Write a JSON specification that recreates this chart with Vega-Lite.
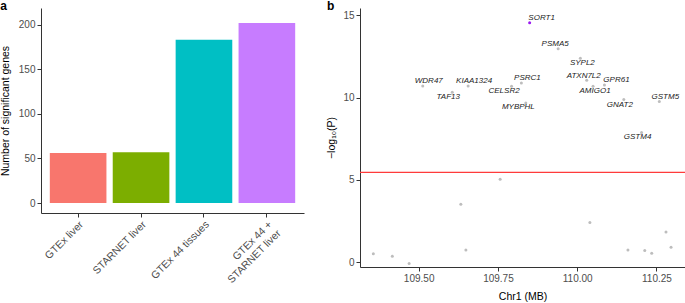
{
  "$schema": "https://vega.github.io/schema/vega-lite/v6.json",
  "padding": 0,
  "spacing": 22,
  "resolve": {"scale": {"color": "independent"}},
  "config": {
    "view": {"stroke": null},
    "font": "Liberation Sans",
    "axis": {
      "grid": false,
      "domainColor": "#333333",
      "tickColor": "#333333",
      "tickSize": 4,
      "labelColor": "#4D4D4D",
      "labelFontSize": 10,
      "titleFontSize": 10.5,
      "titleFontWeight": "normal",
      "titleColor": "#000000",
      "labelFont": "Liberation Sans",
      "titleFont": "Liberation Sans"
    },
    "title": {"fontSize": 12, "fontWeight": "bold", "anchor": "start", "frame": "bounds", "color": "#000000"}
  },
  "hconcat": [
    {
      "title": {"text": "a", "offset": -5},
      "width": 263,
      "height": 205,
      "data": {"values": [
        {"group": "GTEx liver", "genes": 56},
        {"group": "STARNET liver", "genes": 57},
        {"group": "GTEx 44 tissues", "genes": 183},
        {"group": "GTEx 44 + STARNET liver", "genes": 202}
      ]},
      "mark": {"type": "bar"},
      "encoding": {
        "x": {
          "field": "group", "type": "nominal", "sort": null,
          "scale": {"paddingInner": 0.1, "paddingOuter": 0.14},
          "axis": {
            "title": null, "labelAngle": -45, "labelAlign": "right", "labelBaseline": "top",
            "labelFontSize": 10.5,
            "labelExpr": "datum.label == 'GTEx 44 + STARNET liver' ? ['GTEx 44 +', 'STARNET liver'] : datum.label"
          }
        },
        "y": {
          "field": "genes", "type": "quantitative",
          "scale": {"domain": [-11.2, 218.7], "nice": false},
          "axis": {"title": "Number of significant genes", "values": [0, 50, 100, 150, 200], "titlePadding": 8}
        },
        "color": {
          "field": "group", "type": "nominal", "sort": null, "legend": null,
          "scale": {
            "domain": ["GTEx liver", "STARNET liver", "GTEx 44 tissues", "GTEx 44 + STARNET liver"],
            "range": ["#F8766D", "#7CAE00", "#00BFC4", "#C77CFF"]
          }
        }
      }
    },
    {
      "title": {"text": "b", "offset": -5},
      "width": 325,
      "height": 259,
      "data": {"values": [
        {"gene": "SORT1", "pos": 109.85, "logp": 14.55, "lead": "yes"},
        {"gene": "PSMA5", "pos": 109.94, "logp": 12.97, "lead": "no"},
        {"gene": "SYPL2", "pos": 110.01, "logp": 12.4, "lead": "no"},
        {"gene": "ATXN7L2", "pos": 110.03, "logp": 11.05, "lead": "no"},
        {"gene": "GPR61", "pos": 110.086, "logp": 10.77, "lead": "no"},
        {"gene": "AMIGO1", "pos": 110.05, "logp": 10.69, "lead": "no"},
        {"gene": "GNAT2", "pos": 110.147, "logp": 9.88, "lead": "no"},
        {"gene": "GSTM5", "pos": 110.259, "logp": 9.76, "lead": "no"},
        {"gene": "GSTM4", "pos": 110.203, "logp": 7.88, "lead": "no"},
        {"gene": "WDR47", "pos": 109.513, "logp": 10.71, "lead": "no"},
        {"gene": "TAF13", "pos": 109.606, "logp": 10.33, "lead": "no"},
        {"gene": "KIAA1324", "pos": 109.656, "logp": 10.71, "lead": "no"},
        {"gene": "CELSR2", "pos": 109.793, "logp": 10.69, "lead": "no"},
        {"gene": "PSRC1", "pos": 109.824, "logp": 10.89, "lead": "no"},
        {"gene": "MYBPHL", "pos": 109.838, "logp": 9.68, "lead": "no"},
        {"gene": "", "pos": 109.357, "logp": 0.51, "lead": "no"},
        {"gene": "", "pos": 109.417, "logp": 0.35, "lead": "no"},
        {"gene": "", "pos": 109.47, "logp": -0.08, "lead": "no"},
        {"gene": "", "pos": 109.633, "logp": 3.52, "lead": "no"},
        {"gene": "", "pos": 109.649, "logp": 0.73, "lead": "no"},
        {"gene": "", "pos": 109.757, "logp": 5.04, "lead": "no"},
        {"gene": "", "pos": 110.04, "logp": 2.4, "lead": "no"},
        {"gene": "", "pos": 110.16, "logp": 0.73, "lead": "no"},
        {"gene": "", "pos": 110.213, "logp": 0.71, "lead": "no"},
        {"gene": "", "pos": 110.235, "logp": 0.53, "lead": "no"},
        {"gene": "", "pos": 110.28, "logp": 1.83, "lead": "no"},
        {"gene": "", "pos": 110.296, "logp": 0.9, "lead": "no"}
      ]},
      "encoding": {
        "x": {
          "field": "pos", "type": "quantitative",
          "scale": {"domain": [109.315, 110.34], "nice": false, "zero": false},
          "axis": {"title": "Chr1 (MB)", "values": [109.5, 109.75, 110, 110.25], "format": ".2f", "titlePadding": 8}
        },
        "y": {
          "field": "logp", "type": "quantitative",
          "scale": {"domain": [-0.3, 15.45], "nice": false, "zero": false},
          "axis": {"title": "−log₁₀(P)", "values": [0, 5, 10, 15], "titlePadding": 6}
        }
      },
      "layer": [
        {
          "data": {"values": [{"threshold": 5.45}]},
          "mark": {"type": "rule", "stroke": "#FF3B3B", "color": "#FF3B3B", "strokeWidth": 1.2},
          "encoding": {"y": {"field": "threshold", "type": "quantitative"}, "x": null}
        },
        {
          "mark": {"type": "circle", "size": 9, "opacity": 1},
          "encoding": {
            "color": {
              "field": "lead", "type": "nominal", "legend": null,
              "scale": {"domain": ["no", "yes"], "range": ["#BDBDBD", "#9A1AF0"]}
            }
          }
        },
        {
          "transform": [{"filter": {"field": "gene", "oneOf": ["WDR47", "KIAA1324", "PSRC1", "GSTM5"]}}],
          "mark": {"type": "text", "fontSize": 8, "fontStyle": "italic", "color": "#222222", "dx": 6, "dy": -5},
          "encoding": {"text": {"field": "gene"}}
        },
        {
          "transform": [{"filter": {"field": "gene", "oneOf": ["GPR61", "SORT1"]}}],
          "mark": {"type": "text", "fontSize": 8, "fontStyle": "italic", "color": "#222222", "dx": 12, "dy": -5},
          "encoding": {"text": {"field": "gene"}}
        },
        {
          "transform": [{"filter": {"field": "gene", "oneOf": ["PSMA5", "ATXN7L2"]}}],
          "mark": {"type": "text", "fontSize": 8, "fontStyle": "italic", "color": "#222222", "dx": -3, "dy": -4.5},
          "encoding": {"text": {"field": "gene"}}
        },
        {
          "transform": [{"filter": {"field": "gene", "oneOf": ["SYPL2", "AMIGO1"]}}],
          "mark": {"type": "text", "fontSize": 8, "fontStyle": "italic", "color": "#222222", "dx": 2, "dy": 4.5},
          "encoding": {"text": {"field": "gene"}}
        },
        {
          "transform": [{"filter": {"field": "gene", "oneOf": ["GNAT2", "GSTM4", "TAF13"]}}],
          "mark": {"type": "text", "fontSize": 8, "fontStyle": "italic", "color": "#222222", "dx": -4, "dy": 5},
          "encoding": {"text": {"field": "gene"}}
        },
        {
          "transform": [{"filter": {"field": "gene", "oneOf": ["CELSR2", "MYBPHL"]}}],
          "mark": {"type": "text", "fontSize": 8, "fontStyle": "italic", "color": "#222222", "dx": -7.5, "dy": 4.5},
          "encoding": {"text": {"field": "gene"}}
        }
      ]
    }
  ]
}
